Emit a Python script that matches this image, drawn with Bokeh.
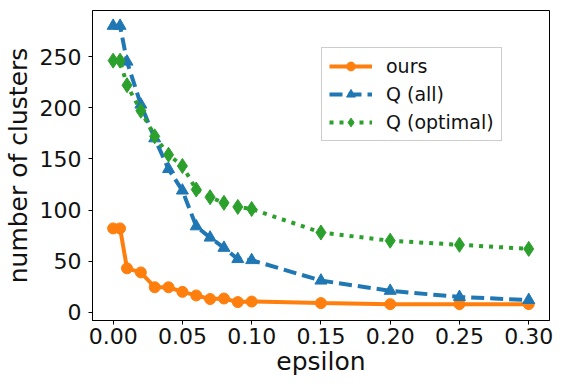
from bokeh.plotting import figure
from bokeh.embed import file_html
from bokeh.resources import INLINE
from bokeh.models import Range1d, FixedTicker, Legend, LegendItem

eps = [0, 0.005, 0.01, 0.02, 0.03, 0.04, 0.05, 0.06, 0.07, 0.08, 0.09, 0.1, 0.15, 0.2, 0.25, 0.3]
ours = [82, 82, 43, 39, 24.5, 24.5, 20, 16.5, 13, 13.5, 10, 10.5, 9, 8, 8, 8]
q_all = [280, 280, 245, 203, 170, 140, 119, 84, 73, 63, 52, 51, 31, 21, 15, 12]
q_opt = [246, 246, 222, 197, 172, 154, 143, 120, 112.5, 107, 103, 101, 78, 70, 66, 62]

x_ticks = [0.0, 0.05, 0.10, 0.15, 0.20, 0.25, 0.30]
y_ticks = [0, 50, 100, 150, 200, 250]

p = figure(width=554, height=379, output_backend="svg", toolbar_location=None,
           x_range=Range1d(-0.0149, 0.315), y_range=Range1d(-8, 295),
           min_border_left=84, min_border_right=5, min_border_top=10, min_border_bottom=59)

p.xgrid.visible = False
p.ygrid.visible = False
p.outline_line_color = "black"
p.outline_line_width = 1

orange = "#ff7f0e"
blue = "#1f77b4"
green = "#2ca02c"

l1 = p.line(eps, ours, line_color=orange, line_width=4)
m1 = p.scatter(eps, ours, marker="circle", size=11, fill_color=orange, line_color=orange)
l2 = p.line(eps, q_all, line_color=blue, line_width=4, line_dash="13 6")
m2 = p.scatter(eps, q_all, marker="triangle", size=12, fill_color=blue, line_color=blue)
l3 = p.line(eps, q_opt, line_color=green, line_width=4, line_dash="4 6")
m3 = p.scatter(eps, q_opt, marker="diamond", size=15, fill_color=green, line_color=green)

legend = Legend(items=[
    LegendItem(label="ours", renderers=[l1, m1]),
    LegendItem(label="Q (all)", renderers=[l2, m2]),
    LegendItem(label="Q (optimal)", renderers=[l3, m3]),
], location=(229, 179))
legend.label_text_font = "DejaVu Sans"
legend.label_text_font_size = "19px"
legend.label_text_color = "#111111"
legend.border_line_color = "#cccccc"
legend.border_line_width = 1
legend.border_line_alpha = 1
legend.background_fill_alpha = 0.9
legend.glyph_width = 43
legend.glyph_height = 22
legend.label_height = 22
legend.spacing = 6
legend.padding = 7
legend.margin = 0
legend.label_standoff = 14
p.add_layout(legend, "center")

for ax in (p.xaxis[0], p.yaxis[0]):
    ax.major_label_text_font = "DejaVu Sans"
    ax.major_label_text_font_size = "22px"
    ax.major_label_text_color = "#111111"
    ax.axis_label_text_font = "DejaVu Sans"
    ax.axis_label_text_font_size = "25px"
    ax.axis_label_text_font_style = "normal"
    ax.axis_label_text_color = "#111111"
    ax.major_tick_out = 4
    ax.major_tick_in = 0
    ax.minor_tick_out = 0
    ax.minor_tick_in = 0
    ax.axis_line_color = "black"
    ax.major_tick_line_color = "black"

p.xaxis[0].ticker = FixedTicker(ticks=x_ticks)
p.yaxis[0].ticker = FixedTicker(ticks=y_ticks)
p.xaxis[0].major_label_overrides = {t: f"{t:.2f}" for t in x_ticks}
p.xaxis[0].axis_label = "epsilon"
p.yaxis[0].axis_label = "number of clusters"
p.xaxis[0].axis_label_standoff = 0
p.yaxis[0].axis_label_standoff = 4
p.yaxis[0].major_label_standoff = 7
p.xaxis[0].major_label_standoff = 3

open("out.html", "w").write(file_html(p, INLINE))
